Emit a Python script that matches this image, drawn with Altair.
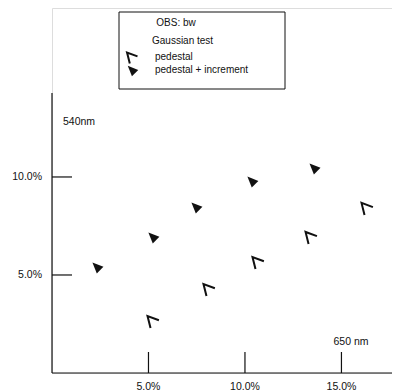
import altair as alt
import pandas as pd

# ---- data ----
ped_x = [5.23, 8.13, 10.67, 13.42, 16.32]
ped_y = [2.60, 4.23, 5.61, 6.89, 8.37]
inc_x = [2.38, 5.28, 7.51, 10.41, 13.63]
inc_y = [5.36, 6.89, 8.42, 9.74, 10.41]

x_ticks = [5, 10, 15]
x_tick_labels = ["5.0%", "10.0%", "15.0%"]
y_ticks = [5, 10]
y_tick_labels = ["5.0%", "10.0%"]

legend_title = "OBS: bw"
legend_subtitle = "Gaussian test"
series_names = ["pedestal", "pedestal + increment"]
x_axis_name = "650 nm"
y_axis_name = "540nm"

FONT = "Liberation Sans"
INK = "#111111"
W, H = 340, 365
XD = [0, 17.62]
YD = [0, 18.62]

xs = alt.Scale(domain=XD, nice=False, zero=False)
ys = alt.Scale(domain=YD, nice=False, zero=False)

ped = pd.DataFrame({"x": ped_x, "y": ped_y})
inc = pd.DataFrame({"x": inc_x, "y": inc_y})
xt = pd.DataFrame({"v": x_ticks, "lab": x_tick_labels})
yt = pd.DataFrame({"v": y_ticks, "lab": y_tick_labels})
one = alt.Data(values=[{}])

CHEVRON = "M 1 -0.3 L -0.9 -1 L -0.4 1"
TRI = "M -1 -1 L 1 -0.2 L -0.2 1 Z"

# axes lines
x_axis_line = alt.Chart(one).mark_rule(color=INK, strokeWidth=1.2).encode(
    x=alt.value(0), x2=alt.value(W), y=alt.value(H))
y_axis_line = alt.Chart(one).mark_rule(color=INK, strokeWidth=1.2).encode(
    x=alt.value(0), y=alt.value(85), y2=alt.value(H))

x_tick_rules = alt.Chart(xt).mark_rule(color=INK, strokeWidth=1.2).encode(
    x=alt.X("v:Q", scale=xs, axis=None), y=alt.value(H - 21), y2=alt.value(H))
y_tick_rules = alt.Chart(yt).mark_rule(color=INK, strokeWidth=1.2).encode(
    y=alt.Y("v:Q", scale=ys, axis=None), x=alt.value(0), x2=alt.value(20))

x_labels = alt.Chart(xt).mark_text(font=FONT, fontSize=10.5, color=INK, baseline="middle").encode(
    x=alt.X("v:Q", scale=xs, axis=None), y=alt.value(H + 14), text="lab:N")
y_labels = alt.Chart(yt).mark_text(font=FONT, fontSize=10.5, color=INK, align="right", baseline="middle").encode(
    y=alt.Y("v:Q", scale=ys, axis=None), x=alt.value(-10), text="lab:N")

x_name = alt.Chart(one).mark_text(font=FONT, fontSize=10.5, color=INK, align="center", baseline="middle").encode(
    x=alt.value(299), y=alt.value(334), text=alt.value(x_axis_name))
y_name = alt.Chart(one).mark_text(font=FONT, fontSize=10.5, color=INK, align="left", baseline="middle").encode(
    x=alt.value(11), y=alt.value(114), text=alt.value(y_axis_name))

# points
ped_pts = alt.Chart(ped).mark_point(shape=CHEVRON, filled=False, color=INK, strokeWidth=2, size=144, opacity=1).encode(
    x=alt.X("x:Q", scale=xs, axis=None), y=alt.Y("y:Q", scale=ys, axis=None))
inc_pts = alt.Chart(inc).mark_point(shape=TRI, filled=True, color=INK, size=121, opacity=1).encode(
    x=alt.X("x:Q", scale=xs, axis=None), y=alt.Y("y:Q", scale=ys, axis=None))

# legend box
box = alt.Chart(one).mark_rect(filled=False, stroke=INK, strokeWidth=1).encode(
    x=alt.value(67), x2=alt.value(233), y=alt.value(4), y2=alt.value(81))
lg_t1 = alt.Chart(one).mark_text(font=FONT, fontSize=10, color=INK, align="center", baseline="middle").encode(
    x=alt.value(124), y=alt.value(15), text=alt.value(legend_title))
lg_t2 = alt.Chart(one).mark_text(font=FONT, fontSize=10, color=INK, align="left", baseline="middle").encode(
    x=alt.value(100), y=alt.value(33), text=alt.value(legend_subtitle))
lg_t3 = alt.Chart(one).mark_text(font=FONT, fontSize=10, color=INK, align="left", baseline="middle").encode(
    x=alt.value(103), y=alt.value(49), text=alt.value(series_names[0]))
lg_t4 = alt.Chart(one).mark_text(font=FONT, fontSize=10, color=INK, align="left", baseline="middle").encode(
    x=alt.value(103), y=alt.value(62), text=alt.value(series_names[1]))
lg_m1 = alt.Chart(one).mark_point(shape=CHEVRON, filled=False, color=INK, strokeWidth=2, size=121, opacity=1).encode(
    x=alt.value(80), y=alt.value(50))
lg_m2 = alt.Chart(one).mark_point(shape=TRI, filled=True, color=INK, size=110, opacity=1).encode(
    x=alt.value(81), y=alt.value(63))

chart = alt.layer(
    x_axis_line, y_axis_line, x_tick_rules, y_tick_rules, x_labels, y_labels,
    x_name, y_name, ped_pts, inc_pts, box, lg_t1, lg_t2, lg_t3, lg_t4, lg_m1, lg_m2
).properties(
    width=W, height=H,
    autosize=alt.AutoSizeParams(type="none"),
    padding={"left": 44, "top": 0, "right": 0, "bottom": 19},
).configure_view(stroke=None).configure(background="white")

chart.save("out.html", embed_options={"renderer": "svg", "actions": False})
